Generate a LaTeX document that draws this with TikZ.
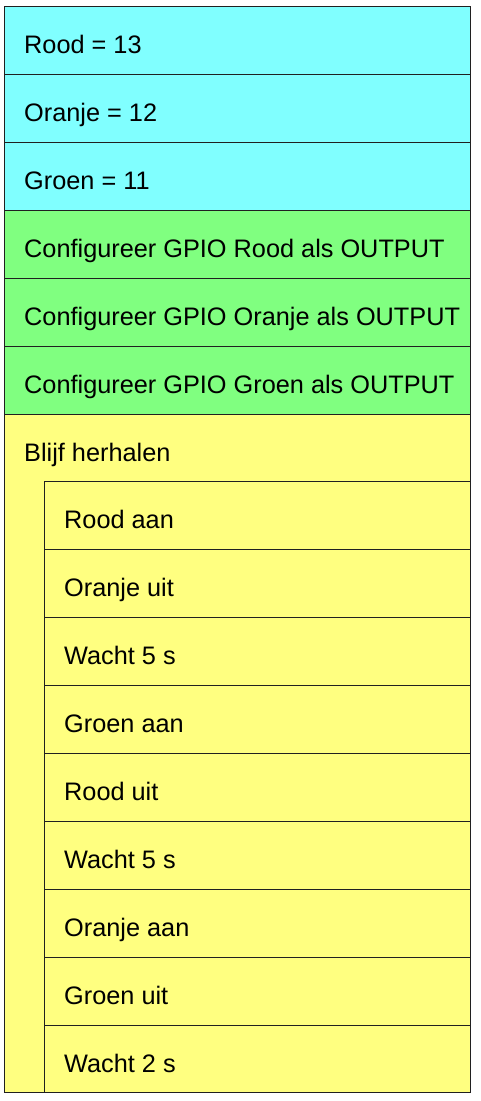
\documentclass[tikz,border=0pt]{standalone}
\usepackage{fontspec}
\setmainfont{Liberation Sans}
\definecolor{cyanbox}{HTML}{80FFFF}
\definecolor{greenbox}{HTML}{80FF80}
\definecolor{yellowbox}{HTML}{FFFF80}
\definecolor{edge}{HTML}{202020}
\begin{document}
\begin{tikzpicture}[x=1pt,y=-1pt,
  box/.style={draw=edge, line width=1pt, rectangle, inner sep=0pt, anchor=north west},
  outerrow/.style={box, minimum width=466pt, minimum height=68pt},
  innerrow/.style={box, fill=yellowbox, minimum width=426pt, minimum height=68pt},
  lbl/.style={anchor=base west, inner sep=0pt, font=\fontsize{25.3}{30}\selectfont}]
\useasboundingbox (0,0) rectangle (480,1101);
\node[box, fill=yellowbox, minimum width=466pt, minimum height=678pt] (loop) at (4,414) {};
\node[outerrow, fill=cyanbox] (r1) at (4,6) {};
\node[outerrow, fill=cyanbox] (r2) at (4,74) {};
\node[outerrow, fill=cyanbox] (r3) at (4,142) {};
\node[outerrow, fill=greenbox] (r4) at (4,210) {};
\node[outerrow, fill=greenbox] (r5) at (4,278) {};
\node[outerrow, fill=greenbox] (r6) at (4,346) {};
\node[lbl] (t1) at (24,53) {Rood = 13};
\node[lbl] (t2) at (24,121) {Oranje = 12};
\node[lbl] (t3) at (24,189) {Groen = 11};
\node[lbl] (t4) at (24,257) {Configureer GPIO Rood als OUTPUT};
\node[lbl] (t5) at (24,325) {Configureer GPIO Oranje als OUTPUT};
\node[lbl] (t6) at (24,393) {Configureer GPIO Groen als OUTPUT};
\node[lbl] (tl) at (24,461) {Blijf herhalen};
\node[innerrow] (i1) at (44,481) {};
\node[innerrow] (i2) at (44,549) {};
\node[innerrow] (i3) at (44,617) {};
\node[innerrow] (i4) at (44,685) {};
\node[innerrow] (i5) at (44,753) {};
\node[innerrow] (i6) at (44,821) {};
\node[innerrow] (i7) at (44,889) {};
\node[innerrow] (i8) at (44,957) {};
\node[innerrow, minimum height=67pt] (i9) at (44,1025) {};
\node[lbl] (u1) at (64,528) {Rood aan};
\node[lbl] (u2) at (64,596) {Oranje uit};
\node[lbl] (u3) at (64,664) {Wacht 5 s};
\node[lbl] (u4) at (64,732) {Groen aan};
\node[lbl] (u5) at (64,800) {Rood uit};
\node[lbl] (u6) at (64,868) {Wacht 5 s};
\node[lbl] (u7) at (64,936) {Oranje aan};
\node[lbl] (u8) at (64,1004) {Groen uit};
\node[lbl] (u9) at (64,1072) {Wacht 2 s};
\end{tikzpicture}
\end{document}
